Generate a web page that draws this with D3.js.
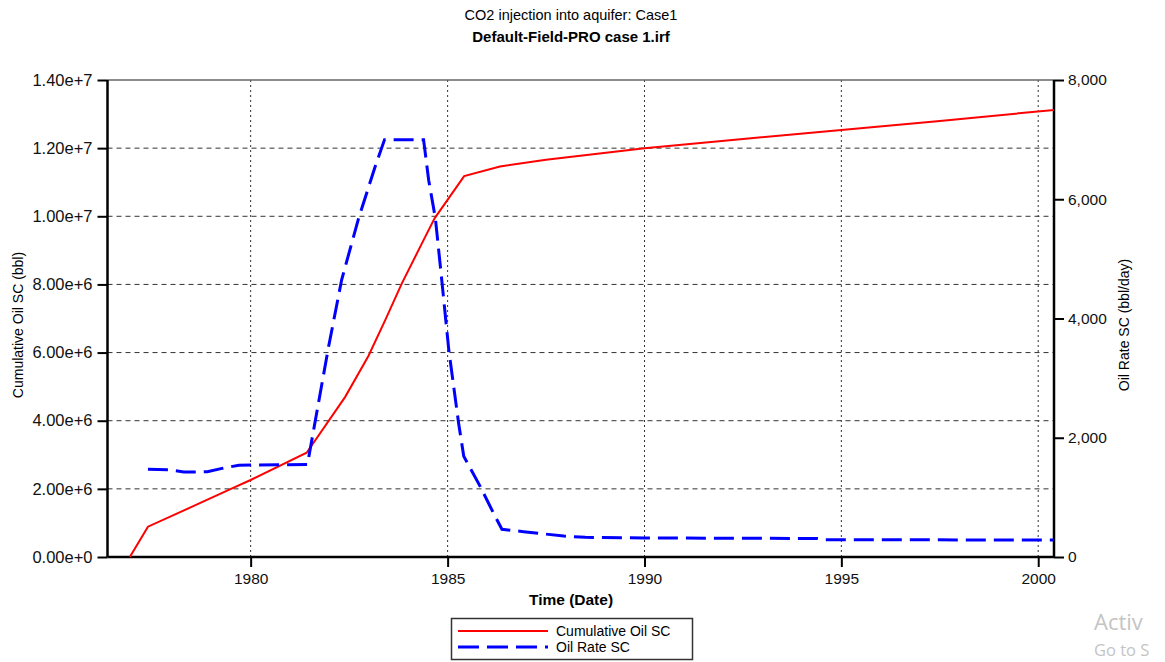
<!DOCTYPE html>
<html>
<head>
<meta charset="utf-8">
<script src="https://cdn.jsdelivr.net/npm/d3@7"></script>
<style>
body { margin: 0; background: #fff; }
svg { display: block; font-family: "Liberation Sans", Arial, sans-serif; }
</style>
</head>
<body>
<div id="chart"></div>
<script>
// data (decimal years)
const cumYears = [1976.93, 1977.39, 1978.5, 1979.5, 1980.0, 1981.42, 1982.4, 1982.99, 1983.42, 1983.84, 1984.39, 1984.67, 1985.42, 1986.33, 1987.5, 1990.0, 1992.5, 1995.0, 1997.5, 2000.4]
const cumOil = [0, 0.889e6, 1.47e6, 2.0e6, 2.26e6, 3.06e6, 4.70e6, 5.90e6, 6.96e6, 8.03e6, 9.30e6, 9.94e6, 11.18e6, 11.46e6, 11.66e6, 12.0e6, 12.27e6, 12.53e6, 12.80e6, 13.12e6]

const rateYears = [1977.39, 1977.9, 1978.3, 1978.9, 1979.3, 1979.7, 1981.44, 1981.97, 1982.31, 1982.74, 1983.16, 1983.40, 1984.39, 1984.52, 1984.69, 1984.86, 1985.03, 1985.28, 1985.41, 1985.83, 1986.17, 1986.38, 1986.93, 1987.95, 1988.5, 1990.0, 1994.4, 1994.6, 2000.4]
const oilRate = [1470, 1465, 1425, 1430, 1490, 1540, 1550, 3500, 4650, 5680, 6545, 7000, 7000, 6320, 5680, 4590, 3470, 2240, 1690, 1180, 730, 465, 424, 352, 330, 320, 310, 290, 285]

const yearTicks = [1980, 1985, 1990, 1995, 2000]
const leftTicks = [0, 2e6, 4e6, 6e6, 8e6, 10e6, 12e6, 14e6]
const rightTicks = [0, 2000, 4000, 6000, 8000]

const W = 1165, H = 662
const L = 107.5, R = 1054, T = 80, B = 557

function toDate(y) {
    const yr = Math.floor(y)
    const a = new Date(yr, 0, 1), b = new Date(yr + 1, 0, 1)
    return new Date(+a + (y - yr) * (b - a))
}

const svg = d3.select('#chart').append('svg')
    .attr('width', W)
    .attr('height', H)

const x = d3.scaleTime()
    .domain([toDate(1976.364), toDate(2000.40)])
    .range([L, R])
const yL = d3.scaleLinear().domain([0, 1.4e7]).range([B, T])
const yR = d3.scaleLinear().domain([0, 8000]).range([B, T])

// titles
svg.append('text').attr('x', 571).attr('y', 20).attr('text-anchor', 'middle')
    .style('font-size', '14.5px').text('CO2 injection into aquifer: Case1')
svg.append('text').attr('x', 571).attr('y', 42).attr('text-anchor', 'middle')
    .style('font-size', '15px').style('font-weight', 'bold').text('Default-Field-PRO case 1.irf')

// grid
svg.append('g').selectAll('line')
    .data(leftTicks.filter(d => d > 0 && d < 1.4e7))
    .enter().append('line')
    .attr('x1', L).attr('x2', R)
    .attr('y1', d => yL(d)).attr('y2', d => yL(d))
    .attr('stroke', '#333').attr('stroke-dasharray', '5,4')
svg.append('g').selectAll('line')
    .data(yearTicks)
    .enter().append('line')
    .attr('x1', d => x(new Date(d, 0, 1))).attr('x2', d => x(new Date(d, 0, 1)))
    .attr('y1', T).attr('y2', B)
    .attr('stroke', '#333').attr('stroke-dasharray', '2,3')
svg.append('line').attr('x1', L).attr('x2', R).attr('y1', T).attr('y2', T)
    .attr('stroke', '#666').attr('stroke-width', 1.5)

// axes
const xAxis = d3.axisBottom(x)
    .tickValues(yearTicks.map(d => new Date(d, 0, 1)))
    .tickFormat(d3.timeFormat('%Y'))
    .tickSize(10).tickPadding(6)
const gx = svg.append('g').attr('transform', 'translate(0,' + B + ')').call(xAxis)

const gl = svg.append('g').attr('transform', 'translate(' + L + ',0)')
    .call(d3.axisLeft(yL).tickValues(leftTicks).tickFormat(d3.format('.2e')).tickSize(10).tickPadding(5))

const gr = svg.append('g').attr('transform', 'translate(' + R + ',0)')
    .call(d3.axisRight(yR).tickValues(rightTicks).tickFormat(d3.format(',')).tickSize(10).tickPadding(4))

for (const g of [gx, gl, gr]) {
    g.select('.domain').attr('stroke', '#000').attr('stroke-width', 2.5)
    g.selectAll('.tick line').attr('stroke', '#000').attr('stroke-width', 2)
    g.selectAll('.tick text').attr('fill', '#111')
        .style('font-family', '"Liberation Sans", Arial, sans-serif').style('font-size', '15.5px')
}
gl.selectAll('.tick text').style('font-size', '16.5px')
gx.select('.domain').attr('d', 'M' + L + ',0H' + R)
gl.select('.domain').attr('d', 'M0,' + B + 'V' + T)
gr.select('.domain').attr('d', 'M0,' + B + 'V' + T)

// axis titles
svg.append('text').attr('x', 571).attr('y', 605).attr('text-anchor', 'middle')
    .style('font-size', '15.5px').style('font-weight', 'bold').text('Time (Date)')
svg.append('text').attr('transform', 'translate(23,325) rotate(-90)').attr('text-anchor', 'middle')
    .style('font-size', '14px').text('Cumulative Oil SC (bbl)')
svg.append('text').attr('transform', 'translate(1129,325) rotate(-90)').attr('text-anchor', 'middle')
    .style('font-size', '14px').text('Oil Rate SC (bbl/day)')

// series
const cumLine = d3.line()
    .x((d, i) => x(toDate(cumYears[i])))
    .y(d => yL(d))
svg.append('path').datum(cumOil)
    .attr('d', cumLine)
    .attr('fill', 'none').attr('stroke', '#ff0000').attr('stroke-width', 2)

const rateLine = d3.line()
    .x((d, i) => x(toDate(rateYears[i])))
    .y(d => yR(d))
svg.append('path').datum(oilRate)
    .attr('d', rateLine)
    .attr('fill', 'none').attr('stroke', '#0000ff').attr('stroke-width', 3)
    .attr('stroke-dasharray', '20,8')

// legend
const lg = svg.append('g')
lg.append('rect').attr('x', 451.5).attr('y', 618.5).attr('width', 241).attr('height', 41)
    .attr('fill', '#fff').attr('stroke', '#333').attr('stroke-width', 1.5)
lg.append('line').attr('x1', 458).attr('x2', 548).attr('y1', 631).attr('y2', 631)
    .attr('stroke', '#ff0000').attr('stroke-width', 2)
lg.append('line').attr('x1', 458).attr('x2', 548).attr('y1', 647).attr('y2', 647)
    .attr('stroke', '#0000ff').attr('stroke-width', 3).attr('stroke-dasharray', '21,8')
lg.append('text').attr('x', 556).attr('y', 635.5).style('font-size', '14px').text('Cumulative Oil SC')
lg.append('text').attr('x', 556).attr('y', 651.5).style('font-size', '14px').text('Oil Rate SC')

// watermark (only the part visible in the screenshot)
svg.append('text').attr('x', 1094).attr('y', 630).attr('fill', '#c4c4c4')
    .style('font-family', '"Open Sans", sans-serif').style('font-size', '22px').text('Activ')
svg.append('text').attr('x', 1094).attr('y', 656).attr('fill', '#c4c4c4')
    .style('font-family', '"Open Sans", sans-serif').style('font-size', '16.5px').text('Go to S')
</script>
</body>
</html>
